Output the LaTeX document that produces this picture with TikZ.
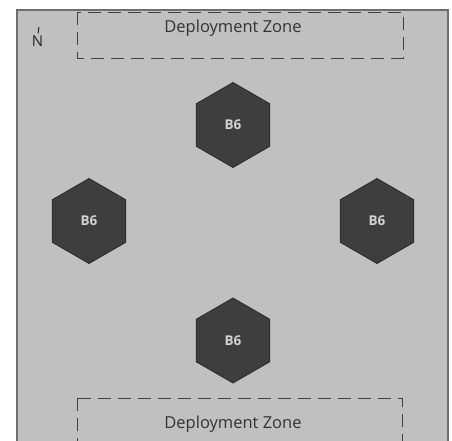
\documentclass[tikz,border=0pt]{standalone}
\usepackage{fontspec}
\setmainfont{Open Sans}
\usetikzlibrary{shapes.geometric}
\definecolor{bggray}{HTML}{C0C0C0}
\definecolor{framegray}{HTML}{6E6E6E}
\definecolor{hexfill}{HTML}{3E3E3E}
\definecolor{hexline}{HTML}{2A2A2A}
\definecolor{hextext}{HTML}{D4D4D4}
\definecolor{zonetext}{HTML}{333333}
\tikzset{
  hexobj/.style={regular polygon, regular polygon sides=6, shape border rotate=30,
    minimum size=85pt, inner sep=0pt, fill=hexfill, draw=hexline, line width=0.8pt,
    text=hextext, font=\bfseries\fontsize{13.5}{15}\selectfont},
  zone/.style={draw=black!75, dashed, dash pattern=on 13pt off 7pt, line width=1pt},
  zonelabel/.style={text=zonetext, font=\fontsize{16.5}{19}\selectfont}
}
\begin{document}
\begin{tikzpicture}[x=1pt,y=-1pt]
\useasboundingbox (0,0) rectangle (452,440);
\fill[white] (0,0) rectangle (452,440);
\draw[fill=bggray, draw=framegray, line width=2pt] (17,10) rectangle (448,445);
% deployment zones
\draw[zone] (77,12) rectangle (403,58);
\node[zonelabel] (dztop) at (233,28) {Deployment Zone};
\draw[zone] (77,398) rectangle (402,450);
\node[zonelabel] (dzbot) at (233,424) {Deployment Zone};
% north marker
\node[font=\fontsize{15}{17}\selectfont, text=black!85, inner sep=0pt] (north) at (37.5,41) {N};
\coordinate (tick) at (39,27);
\draw[black!85, line width=1pt] (north.north) ++(0.5pt,2pt) -- (tick);
% hexes
\node[hexobj] (h1) at (233,125) {B6};
\node[hexobj] (h2) at (89,221) {B6};
\node[hexobj] (h3) at (377,221) {B6};
\node[hexobj] (h4) at (233,340.5) {B6};
\end{tikzpicture}
\end{document}
